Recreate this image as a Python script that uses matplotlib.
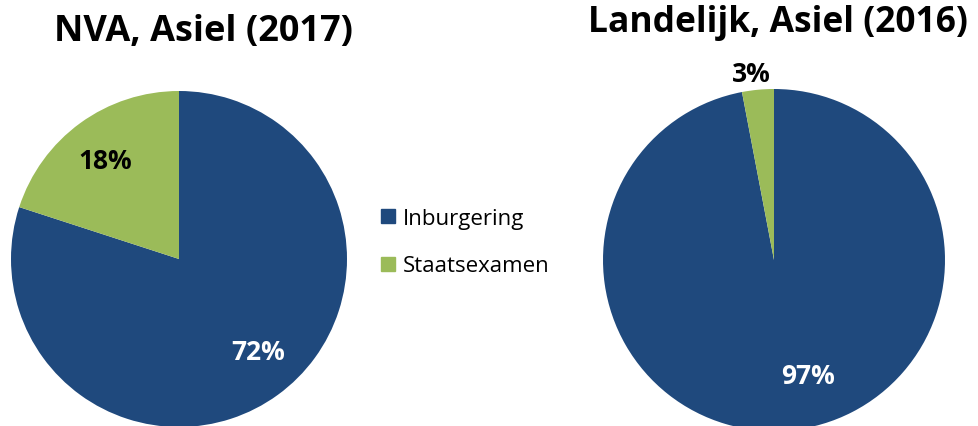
import matplotlib.pyplot as plt
from matplotlib.lines import Line2D

plt.rcParams["font.family"] = ["Open Sans", "DejaVu Sans"]

# data
categories = ["Inburgering", "Staatsexamen"]
nva_values = [72, 18]
nva_labels = ["72%", "18%"]
land_values = [97, 3]
land_labels = ["97%", "3%"]

titles = ["NVA, Asiel (2017)", "Landelijk, Asiel (2016)"]
colors = ["#1F497D", "#9BBB59"]
label_colors = ["white", "black"]

W, H = 979, 427
fig = plt.figure(figsize=(W / 100, H / 100), dpi=100)


def px_axes(x0, y_top, size):
    # axes placed in pixel coordinates (top-left origin)
    return fig.add_axes([x0 / W, (H - y_top - size) / H, size / W, size / H])


def draw_pie(ax, values, labels, label_pos):
    ax.pie(values, colors=colors, startangle=90, counterclock=False,
           radius=1, wedgeprops=dict(linewidth=0))
    ax.set_xlim(-1, 1)
    ax.set_ylim(-1, 1)
    ax.set_aspect("equal")
    ax.axis("off")
    for txt, (x, y), c in zip(labels, label_pos, label_colors):
        ax.text(x, y, txt, color=c, fontsize=19, fontweight="bold",
                ha="center", va="center", clip_on=False)


ax1 = px_axes(11, 92, 336)
draw_pie(ax1, nva_values, nva_labels, [(0.47, -0.55), (-0.44, 0.585)])

ax2 = px_axes(603, 90, 342)
draw_pie(ax2, land_values, land_labels, [(0.2, -0.675), (-0.135, 1.09)])

fig.text(204 / W, 1 - 41 / H, titles[0], fontsize=26, fontweight="bold",
         ha="center", va="baseline")
fig.text(778 / W, 1 - 32 / H, titles[1], fontsize=25.5, fontweight="bold",
         ha="center", va="baseline")

handles = [Line2D([], [], marker="s", linestyle="none", markersize=9.5,
                  markerfacecolor=c, markeredgecolor=c) for c in colors]
fig.legend(handles, categories, loc="center left",
           bbox_to_anchor=(370 / W, 1 - 243 / H), frameon=False,
           fontsize=16, handlelength=0.8, handletextpad=0.28,
           labelspacing=1.2, borderaxespad=0)

fig.savefig("out.png", dpi=100)
